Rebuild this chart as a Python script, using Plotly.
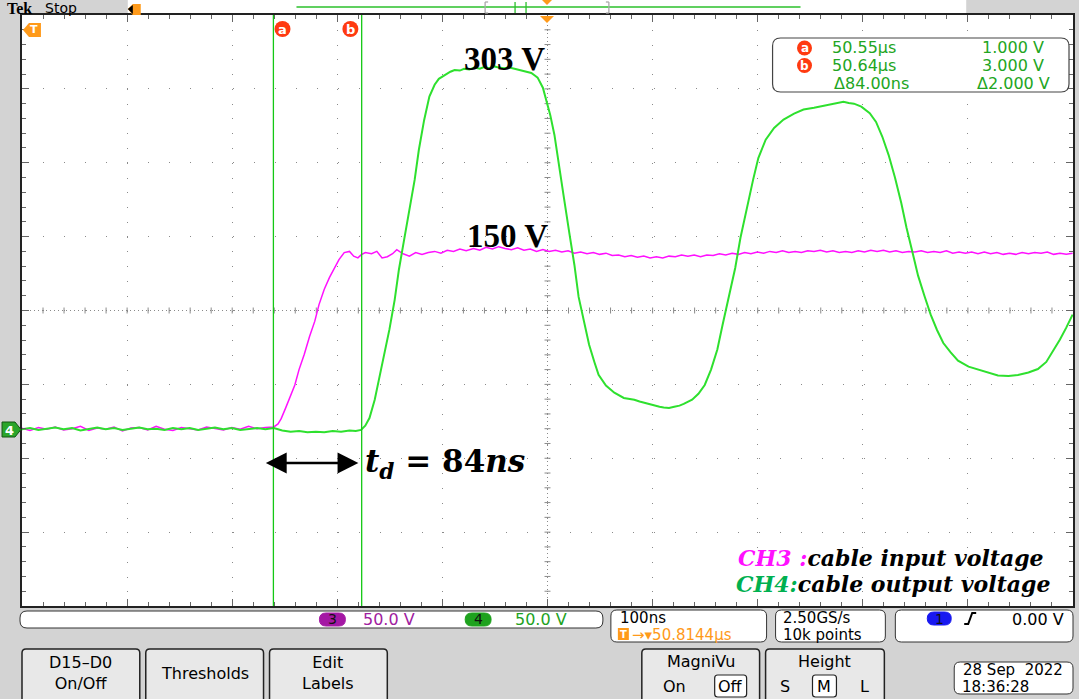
import plotly.graph_objects as go

# ---------------- data (time in ns, voltage in V) ----------------
ch3_t = [50314, 50322, 50330, 50338, 50346, 50354, 50362, 50370, 50378, 50386, 50394, 50402, 50410, 50418,
         50426, 50434, 50442, 50450, 50458, 50466, 50474, 50482, 50490, 50498, 50506, 50514, 50522, 50530,
         50538, 50546, 50554, 50558, 50561, 50565, 50569, 50574, 50578, 50583, 50588, 50593, 50597, 50602,
         50607, 50612, 50616, 50621, 50626, 50630, 50634, 50637, 50641, 50647, 50652, 50657, 50662, 50667,
         50671, 50677, 50683, 50689, 50695, 50701, 50707, 50713, 50719, 50725, 50731, 50737, 50744, 50750,
         50756, 50762, 50768, 50774, 50780, 50786, 50792, 50798, 50804, 50810, 50816, 50822, 50828, 50834,
         50840, 50846, 50852, 50858, 50864, 50870, 50876, 50882, 50888, 50894, 50900, 50906, 50912, 50918,
         50924, 50930, 50936, 50942, 50948, 50954, 50960, 50966, 50972, 50978, 50984, 50990, 50996, 51002,
         51008, 51014, 51020, 51026, 51032, 51038, 51044, 51050, 51056, 51062, 51068, 51074, 51080, 51086,
         51092, 51098, 51104, 51110, 51116, 51122, 51128, 51134, 51140, 51146, 51152, 51158, 51164, 51170,
         51176, 51182, 51188, 51194, 51200, 51206, 51212, 51218, 51224, 51230, 51236, 51242, 51248, 51254,
         51260, 51266, 51272, 51278, 51284, 51290, 51296, 51302, 51308, 51314]
ch3_v = [0.5, -1.5, 1, -0.5, 1.5, -1, 0, 2, -1.5, 0.5, -0.5, 1.5, -2, 0.5,
         1, -1, 2, -0.5, -1.5, 1, 0, -1, 1.5, 0.5, -1, 1, -0.5, 2,
         0, 1, 1.5, 4, 8.5, 17, 26, 37, 50, 63, 78, 91, 105, 118,
         128, 137, 143, 149, 150, 146, 144.5, 147, 149, 148, 150, 144.5, 145.5, 148,
         151.5, 148, 146, 149, 147.5, 149, 150, 148.5, 151, 150, 152, 150.5, 152.5, 151,
         153.5, 152, 154, 152.5, 151.5, 153, 151, 152, 150, 151.5, 150, 151, 149.5, 150.5,
         148.5, 149.5, 148, 149, 147.5, 148.5, 146.5, 147, 145.5, 146.5, 145, 146, 144.5, 145.5,
         144.5, 146, 145.5, 147, 146, 147, 145.5, 147, 146.5, 148, 147, 148.5, 147.5, 149,
         148, 149.5, 148.5, 150, 149, 150.5, 149, 150, 149, 150.5, 150, 151, 149.5, 150.5,
         149, 150, 149, 150.5, 149.5, 151, 150, 151, 149.5, 150.5, 149, 150, 149.5, 150.5,
         149, 150, 149, 150.5, 148.5, 149.5, 148.5, 149.5, 148, 149.5, 148, 149, 147.5, 148.5,
         147.5, 149, 148, 149, 148.5, 149.5, 147.5, 148.5, 147.5, 148.5]

ch4_t = [50314, 50322, 50330, 50338, 50346, 50354, 50362, 50370, 50378, 50386, 50394, 50402, 50410, 50418,
         50426, 50434, 50442, 50450, 50458, 50466, 50474, 50482, 50490, 50498, 50506, 50514, 50522, 50530,
         50538, 50546, 50554, 50562, 50570, 50578, 50586, 50594, 50602, 50610, 50618, 50626, 50632, 50637,
         50641, 50645, 50650, 50654, 50659, 50664, 50669, 50673, 50678, 50683, 50688, 50692, 50697, 50702,
         50707, 50711, 50718, 50722, 50726, 50731, 50735, 50740, 50745, 50750, 50754, 50759, 50764, 50768,
         50773, 50778, 50783, 50788, 50792, 50796, 50799, 50802, 50805, 50810, 50813, 50817, 50821, 50825,
         50830, 50835, 50840, 50844, 50849, 50854, 50859, 50863, 50870, 50878, 50887, 50892, 50897, 50902,
         50906, 50911, 50916, 50921, 50925, 50930, 50935, 50940, 50944, 50948, 50952, 50958, 50964, 50970,
         50976, 50981, 50987, 50993, 50998, 51004, 51010, 51015, 51022, 51030, 51039, 51049, 51058, 51068,
         51077, 51087, 51096, 51101, 51106, 51113, 51121, 51127, 51133, 51139, 51145, 51151, 51156, 51162,
         51167, 51173, 51179, 51185, 51191, 51198, 51205, 51215, 51224, 51234, 51243, 51253, 51262, 51272,
         51281, 51289, 51295, 51302, 51308, 51314]
ch4_v = [-0.5, 0.5, -1, 0, 1, -0.5, 0.5, -1.5, 0, 1, -0.5, 0.5, -1, 0,
         1, -0.5, 0, -1, 0.5, -0.5, 0.5, -1, 0, 1, -0.5, 0.5, -1, 0,
         0.5, -0.5, 0.5, -1.5, -2.5, -2, -3, -2.5, -3, -2, -2.5, -1.5, -2, -1,
         2.5, 9, 24.5, 41.5, 62, 84, 109, 134.5, 160, 185, 210.5, 236, 261, 281,
         291, 296, 300, 302, 303.5, 303, 304.5, 304, 305.5, 304.5, 306, 305, 306.5, 305.5,
         305, 305.5, 304.5, 303.5, 303, 302, 301, 299, 297, 288.5, 278, 265.5, 248.5, 223,
         195.5, 166.5, 138.5, 111.5, 90.5, 71, 56.5, 45.5, 36.5, 30.5, 26, 25.5, 24.5, 23,
         22, 20.5, 19.5, 18.5, 18, 17.5, 18.5, 19.5, 21, 22.5, 24.5, 29.5, 37, 50,
         67, 88, 111, 136, 161.5, 187, 210.5, 229, 244.5, 254.5, 261.5, 266.5, 270, 271.5,
         273, 275, 276.5, 275.5, 275, 272.5, 267, 259.5, 247, 231.5, 212.5, 191, 170, 148,
         129.5, 112.5, 96.5, 83.5, 72.5, 64.5, 57.5, 52.5, 50, 47.5, 45, 44.5, 45.5, 47.5,
         50.5, 56.5, 65, 75.5, 85.5, 96.5]

cursor_a_ns = 50553.6
cursor_b_ns = 50637.6
x_range = [50314.4, 51314.4]     # 100 ns/div, 10 div
y_range = [-150, 350]            # 8 div

readout_rows = [["a", "50.55µs", "1.000 V"], ["b", "50.64µs", "3.000 V"], ["", "Δ84.00ns", "Δ2.000 V"]]

# ---------------- geometry helpers (pixels -> paper) ----------------
W, H = 1079, 699
L, R, T, B = 22, 4, 15, 93
PW, PH = W - L - R, H - T - B


def fx(x):
    return (x - L) / PW


def fy(y):
    return (H - B - y) / PH


def rrect(x0, y0, x1, y1, r):
    pts = [
        f"M{fx(x0 + r)},{fy(y0)}", f"L{fx(x1 - r)},{fy(y0)}", f"Q{fx(x1)},{fy(y0)} {fx(x1)},{fy(y0 + r)}",
        f"L{fx(x1)},{fy(y1 - r)}", f"Q{fx(x1)},{fy(y1)} {fx(x1 - r)},{fy(y1)}",
        f"L{fx(x0 + r)},{fy(y1)}", f"Q{fx(x0)},{fy(y1)} {fx(x0)},{fy(y1 - r)}",
        f"L{fx(x0)},{fy(y0 + r)}", f"Q{fx(x0)},{fy(y0)} {fx(x0 + r)},{fy(y0)}", "Z"]
    return " ".join(pts)


def poly(points):
    return "M" + " L".join(f"{fx(a)},{fy(b)}" for a, b in points) + " Z"


shapes = []
annots = []


def box(x0, y0, x1, y1, r=6, fill="white", line="#333", w=1, layer="above"):
    shapes.append(dict(type="path", path=rrect(x0, y0, x1, y1, r), xref="paper", yref="paper",
                       fillcolor=fill, line=dict(color=line, width=w), layer=layer))


def txt(x, y, s, size=16, color="black", family="DejaVu Sans", xa="center", ya="middle", **kw):
    annots.append(dict(x=fx(x), y=fy(y), xref="paper", yref="paper", text=s, showarrow=False,
                       xanchor=xa, yanchor=ya, font=dict(size=size, color=color, family=family), **kw))


def pline(x0, y0, x1, y1, color, w=1, dash="solid"):
    shapes.append(dict(type="line", x0=fx(x0), y0=fy(y0), x1=fx(x1), y1=fy(y1), xref="paper", yref="paper",
                       line=dict(color=color, width=w, dash=dash), layer="above"))


def circ(cx, cy, r, fill):
    shapes.append(dict(type="circle", x0=fx(cx - r), x1=fx(cx + r), y0=fy(cy + r), y1=fy(cy - r),
                       xref="paper", yref="paper", fillcolor=fill, line=dict(width=0), layer="above"))


ORANGE = "#ff9a1a"
RED = "#ff3a10"
GREEN_TXT = "#22a522"
GRAY = "#d3d3d3"

# ---------------- traces ----------------
fig = go.Figure()
fig.add_trace(go.Scatter(x=ch3_t, y=ch3_v, mode="lines", line=dict(color="#ff10ff", width=1.5),
                         showlegend=False, hoverinfo="skip"))
fig.add_trace(go.Scatter(x=ch4_t, y=ch4_v, mode="lines", line=dict(color="#2ee02e", width=2),
                         showlegend=False, hoverinfo="skip"))

# cursors
for c in (cursor_a_ns, cursor_b_ns):
    shapes.append(dict(type="line", x0=c, x1=c, y0=0, y1=1, xref="x", yref="paper",
                       line=dict(color="#14c814", width=1.3), layer="above"))

# center crosshair (denser dots + ticks)
xc = (x_range[0] + x_range[1]) / 2
yc = (y_range[0] + y_range[1]) / 2
shapes.append(dict(type="line", x0=xc, x1=xc, y0=0, y1=1, xref="x", yref="paper",
                   line=dict(color="#8a8a8a", width=1, dash="1px,3px"), layer="below"))
shapes.append(dict(type="line", x0=0, x1=1, y0=yc, y1=yc, xref="paper", yref="y",
                   line=dict(color="#8a8a8a", width=1, dash="1px,3px"), layer="below"))
for k in range(1, 50):
    xv = x_range[0] + k * 20
    shapes.append(dict(type="line", x0=xv, x1=xv, y0=0.5 - 3 / PH, y1=0.5 + 3 / PH, xref="x", yref="paper",
                       line=dict(color="#8a8a8a", width=1), layer="below"))
for k in range(1, 40):
    yv = y_range[0] + k * 12.5
    shapes.append(dict(type="line", x0=0.5 - 3 / PW, x1=0.5 + 3 / PW, y0=yv, y1=yv, xref="paper", yref="y",
                       line=dict(color="#8a8a8a", width=1), layer="below"))

# ---------------- top bar ----------------
shapes.append(dict(type="rect", x0=fx(128), x1=fx(968), y0=fy(14), y1=fy(0), xref="paper", yref="paper",
                   fillcolor="white", line=dict(width=0), layer="below"))
txt(19, 8.5, "<b>Tek</b>", size=16, family="Liberation Serif")
txt(61, 8, "Stop", size=14)
# small trigger icon in header
shapes.append(dict(type="path", path=poly([(128, 9), (133, 4), (141, 4), (141, 15), (133, 15)]),
                   xref="paper", yref="paper", fillcolor=ORANGE, line=dict(width=0), layer="above"))
shapes.append(dict(type="path", path=poly([(128, 9), (133, 5), (133, 14)]),
                   xref="paper", yref="paper", fillcolor="black", line=dict(width=0), layer="above"))
pline(297, 7, 802, 7, "#2bc02b", 1.3)
pline(516, 2, 516, 13, "#2bc02b", 1.3)
pline(527, 2, 527, 13, "#2bc02b", 1.3)
pline(486, 2, 486, 13, "#aaaaaa", 1.3)
pline(486, 2, 489, 2, "#aaaaaa", 1.3)
pline(486, 13, 489, 13, "#aaaaaa", 1.3)
pline(610, 2, 610, 13, "#aaaaaa", 1.3)
pline(607, 2, 610, 2, "#aaaaaa", 1.3)
pline(607, 13, 610, 13, "#aaaaaa", 1.3)
shapes.append(dict(type="path", path=poly([(543, 0), (553, 0), (548, 5)]), xref="paper", yref="paper",
                   fillcolor=ORANGE, line=dict(width=0), layer="above"))
# trigger-position marker at top of graticule
shapes.append(dict(type="path", path=poly([(541, 16), (555, 16), (548, 23)]), xref="paper", yref="paper",
                   fillcolor=ORANGE, line=dict(width=0), layer="above"))
# T marker (left)
shapes.append(dict(type="path", path=poly([(23, 30), (29, 23), (41, 23), (41, 37), (29, 37)]),
                   xref="paper", yref="paper", fillcolor=ORANGE, line=dict(width=0), layer="above"))
txt(34, 30, "<b>T</b>", size=11, color="white")
# channel 4 ground marker
shapes.append(dict(type="path", path=poly([(2, 422), (15, 422), (21, 429.5), (15, 437), (2, 437)]),
                   xref="paper", yref="paper", fillcolor="#2aa52a", line=dict(color="#125512", width=1),
                   layer="above"))
txt(9, 430, "<b>4</b>", size=13, color="white")

# cursor labels at top
for cx, lab in ((283, "a"), (351, "b")):
    circ(cx, 29, 8, RED)
    txt(cx, 29, f"<b>{lab}</b>", size=13, color="white")

# ---------------- cursor readout ----------------
box(774, 38, 1071, 92, r=8, fill="white", line="#444", w=1.2)
for i, (lab, tv, vv) in enumerate(readout_rows):
    yy = 48 + i * 17.5
    if lab:
        circ(806, yy, 7.5, RED)
        txt(806, yy, f"<b>{lab}</b>", size=12, color="white")
    txt(866 if lab else 873, yy, tv, size=16, color=GREEN_TXT)
    txt(1015, yy, vv, size=16, color=GREEN_TXT)

# ---------------- annotations on the chart ----------------
txt(505, 59, "<b>303 V</b>", size=33, family="Liberation Serif")
txt(508, 236, "<b>150 V</b>", size=33, family="Liberation Serif")
txt(446, 463, "<b><i>t</i><sub><i>d</i></sub> = 84<i>ns</i></b>", size=31, family="DejaVu Serif")
annots.append(dict(x=fx(359), y=fy(463), ax=-94, ay=0, xref="paper", yref="paper",
                   axref="pixel", ayref="pixel", text="", showarrow=True, arrowhead=2,
                   arrowside="end+start", arrowsize=1.6, arrowwidth=2.6, arrowcolor="black"))
txt(737, 558, "<b><i><span style='color:#ff10ff'>CH3 :</span>cable input voltage</i></b>", size=22,
    family="DejaVu Serif", xa="left")
txt(735, 584, "<b><i><span style='color:#00b050'>CH4:</span>cable output voltage</i></b>", size=22,
    family="DejaVu Serif", xa="left")

# ---------------- bottom status area ----------------
box(20, 611, 604, 628, r=7)
box(320, 613, 346, 626, r=6.5, fill="#a418a4", line="#a418a4")
txt(333, 619.5, "3", size=14, color="#111")
txt(390, 619.5, "50.0 V", size=16, color="#a020a0")
box(466, 613, 492, 626, r=6.5, fill="#1ea21e", line="#1ea21e")
txt(479, 619.5, "4", size=14, color="#111")
txt(542, 619.5, "50.0 V", size=16, color="#1ea21e")

box(612, 610, 768, 642, r=6)
txt(619, 618, "100ns", size=15, xa="left")
shapes.append(dict(type="rect", x0=fx(619), x1=fx(630), y0=fy(640), y1=fy(628), xref="paper", yref="paper",
                   fillcolor=ORANGE, line=dict(width=0), layer="above"))
txt(624.5, 634, "<b>T</b>", size=10, color="white")
txt(631, 634.5, "→▾50.8144µs", size=15, color=ORANGE, xa="left")

box(777, 610, 887, 642, r=6)
txt(782, 618, "2.50GS/s", size=15, xa="left")
txt(782, 634.5, "10k points", size=15, xa="left")

box(897, 610, 1075, 642, r=6)
box(929, 612, 953, 625, r=6.5, fill="#1818f0", line="#1818f0")
txt(941, 618.5, "1", size=14, color="#111")
shapes.append(dict(type="path", path=f"M{fx(966)},{fy(624)} L{fx(970)},{fy(624)} L{fx(974)},{fy(613)} L{fx(978)},{fy(613)}",
                   xref="paper", yref="paper", line=dict(color="black", width=2), layer="above"))
txt(1068, 619, "0.00 V", size=16, xa="right")

for (x0, x1, label) in ((22, 140, "D15–D0<br>On/Off"), (146, 264, "Thresholds"), (270, 388, "Edit<br>Labels")):
    box(x0, 649, x1, 710, r=4, fill="#e8e8e8", line="#222", w=1.5)
    txt((x0 + x1) / 2, 673, label, size=16)

box(643, 649, 761, 710, r=4, fill="#e8e8e8", line="#222", w=1.5)
txt(702, 661, "MagniVu", size=16)
txt(676, 686, "On", size=16)
box(716, 675, 748, 697, r=3, fill="white", line="#222", w=1.2)
txt(732, 686, "Off", size=16)

box(767, 649, 886, 710, r=4, fill="#e8e8e8", line="#222", w=1.5)
txt(826, 661, "Height", size=16)
txt(786, 686, "S", size=16)
box(814, 675, 838, 697, r=3, fill="white", line="#222", w=1.2)
txt(826, 686, "M", size=16)
txt(866, 686, "L", size=16)

box(956, 662, 1075, 694, r=6)
txt(1015, 670, "28 Sep  2022", size=15)
txt(962, 686.5, "18:36:28", size=15, xa="left")

# ---------------- layout ----------------
fig.update_layout(
    width=W, height=H,
    margin=dict(l=L, r=R, t=T, b=B, pad=0),
    paper_bgcolor=GRAY, plot_bgcolor="white",
    shapes=shapes, annotations=annots, showlegend=False,
    xaxis=dict(range=x_range, tick0=x_range[0], dtick=100, showticklabels=False,
               showgrid=True, gridcolor="#8a8a8a", gridwidth=1, griddash="1px,13.78px",
               zeroline=False, showline=True, linecolor="#222", linewidth=1.5, mirror="ticks",
               ticks="inside", ticklen=7, tickcolor="#666", tickwidth=1,
               minor=dict(dtick=20, tick0=x_range[0], ticks="inside", ticklen=4, tickcolor="#666",
                          showgrid=False)),
    yaxis=dict(range=y_range, tick0=y_range[0], dtick=62.5, showticklabels=False,
               showgrid=True, gridcolor="#8a8a8a", gridwidth=1, griddash="1px,20.06px",
               zeroline=False, showline=True, linecolor="#222", linewidth=1.5, mirror="ticks",
               ticks="inside", ticklen=7, tickcolor="#666", tickwidth=1,
               minor=dict(dtick=12.5, tick0=y_range[0], ticks="inside", ticklen=4, tickcolor="#666",
                          showgrid=False)),
)

fig.write_html("out.html", config={"displayModeBar": False},
               post_script="document.body.style.margin='0px';document.body.style.overflow='hidden';")
